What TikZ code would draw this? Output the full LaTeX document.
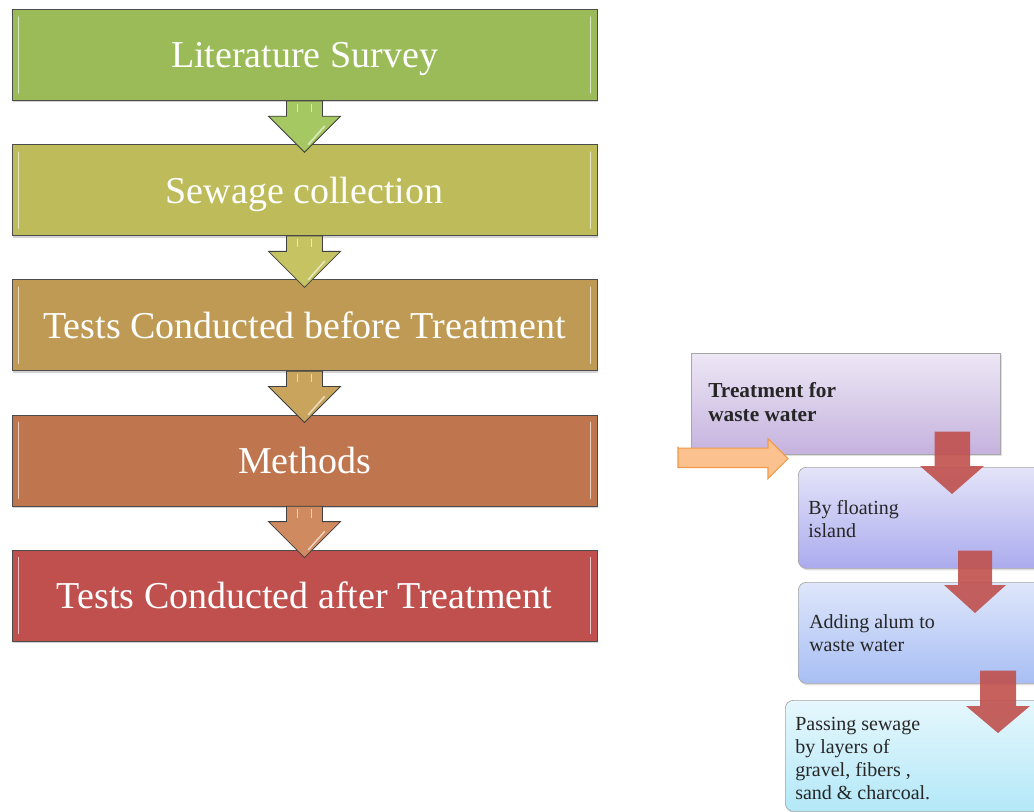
\documentclass[tikz,border=0pt]{standalone}
\usepackage{fontspec}
\setmainfont{Liberation Serif}
\usepackage{tikz}
\usetikzlibrary{positioning, calc, shadows}

\definecolor{stagegreen}{HTML}{9BBB59}
\definecolor{stageolive}{HTML}{BDBB5A}
\definecolor{stagetan}{HTML}{BF9A54}
\definecolor{stageorange}{HTML}{BF764E}
\definecolor{stagered}{HTML}{C0504D}
\definecolor{arrgreen}{HTML}{A6C862}
\definecolor{arrolive}{HTML}{C6C462}
\definecolor{arrtan}{HTML}{C8A45C}
\definecolor{arrorange}{HTML}{D08A60}
\definecolor{lilactop}{HTML}{EDE7F5}
\definecolor{lilacbot}{HTML}{C5B2DE}
\definecolor{periwtop}{HTML}{E4E4F9}
\definecolor{periwbot}{HTML}{ABABEE}
\definecolor{bluetop}{HTML}{DEE6FA}
\definecolor{bluebot}{HTML}{A8BEF4}
\definecolor{cyantop}{HTML}{E6F7FD}
\definecolor{cyanbot}{HTML}{B3E8F8}
\definecolor{peach}{HTML}{FBC28F}
\definecolor{peachline}{HTML}{F29A4A}

% block arrow pointing down: top, tip, half shaft, half head, head length, style
\newcommand{\blockdown}[6]{%
  \draw[#6] (#2) -- ++(#4,#5) -- ++(#3-#4,0) |- ($(#1)+(#3,0)$)
    -- ++(-2*#3,0) |- ($(#2)+(-#4,#5)$) -- cycle;
}

\begin{document}
\begin{tikzpicture}[x=0.75pt, y=0.75pt,
    node distance=32.5pt,
    stage/.style={draw=black!70, line width=0.6pt,
      minimum width=438.75pt, minimum height=68.25pt, text depth=0pt,
      text=white, font=\fontsize{28.5}{34}\selectfont,
      drop shadow={opacity=0.35, shadow xshift=1pt, shadow yshift=-1.5pt}},
    wbox/.style={draw=black!35, line width=0.5pt, anchor=north west,
      minimum width=231.75pt, minimum height=75.75pt,
      drop shadow={opacity=0.25, shadow xshift=1pt, shadow yshift=-1.5pt}},
    wtext/.style={anchor=north west, inner sep=0pt, align=left,
      text=black!85, font=\fontsize{15}{17.25}\selectfont},
    redarrow/.style={fill=stagered, fill opacity=0.9, draw=none},
  ]
  \useasboundingbox (0,0) rectangle (1034,-812);
  \clip (0,0) rectangle (1034,-812);

  % left column
  \node[stage, fill=stagegreen] (lit) at (304.5,-55) {Literature Survey};
  \node[stage, fill=stageolive, below=of lit] (sew) {Sewage collection};
  \node[stage, fill=stagetan, below=of sew] (tbt) {Tests Conducted before Treatment};
  \node[stage, fill=stageorange, below=of tbt] (met) {Methods};
  \node[stage, fill=stagered, below=of met] (tat) {Tests Conducted after Treatment};

  \foreach \n/\c in {lit/stagegreen, sew/stageolive, tbt/stagetan, met/stageorange, tat/stagered}{
    \draw[\c!35!white, line width=1.2pt, line cap=round]
      ($(\n.north west)+(7,-8)$) -- ($(\n.south west)+(7,8)$);
    \draw[\c!35!white, line width=1.2pt, line cap=round]
      ($(\n.north east)+(-7,-8)$) -- ($(\n.south east)+(-7,8)$);
  }

  \foreach \a/\b/\c [count=\i] in {lit/sew/arrgreen, sew/tbt/arrolive, tbt/met/arrtan, met/tat/arrorange}{
    \coordinate (tip\i) at ($(\b.north)+(0,-8)$);
    \blockdown{\a.south}{tip\i}{18}{36}{36}{draw=black!75, line width=0.6pt, fill=\c}
    \draw[\c!40!white, line width=1pt] ($(\a.south)+(-7,-3)$) -- ($(tip\i)+(-7,40)$);
    \draw[\c!40!white, line width=1pt] ($(\a.south)+(7,-3)$) -- ($(tip\i)+(7,40)$);
    \draw[\c!40!white, line width=1.2pt, line cap=round] ($(tip\i)+(4,8)$) -- ($(tip\i)+(20,26)$);
  }

  % right column
  \node[wbox, top color=lilactop, bottom color=lilacbot] (trt) at (691,-353) {};
  \node[wbox, rounded corners=6pt, top color=periwtop, bottom color=periwbot] (flo) at (798,-467) {};
  \node[wbox, rounded corners=6pt, top color=bluetop, bottom color=bluebot] (alm) at (798,-582) {};
  \node[wbox, rounded corners=6pt, top color=cyantop, bottom color=cyanbot,
    minimum width=240pt, minimum height=83.25pt] (pas) at (785,-700) {};

  \node[wtext, font=\bfseries\fontsize{16}{18}\selectfont] (ttrt)
    at ($(trt.north west)+(17,-29)$) {Treatment for\\waste water};
  \node[wtext] (tflo) at ($(flo.north west)+(10,-33)$) {By floating\\island};
  \node[wtext] (talm) at ($(alm.north west)+(11,-32)$) {Adding alum to\\waste water};
  \node[wtext] (tpas) at ($(pas.north west)+(10,-17)$)
    {Passing sewage\\by layers of\\gravel, fibers ,\\sand \& charcoal.};

  % incoming arrow
  \coordinate (inend) at (678,-457);
  \coordinate (intip) at ($(trt.south west)+(97,-4)$);
  \draw[draw=peachline, fill=peach, line width=0.8pt]
    (intip) -- ++(-20,20) -- ++(0,-9.5) -| ($(inend)+(0,10.5)$)
    -- ++(0,-21) -| ($(intip)+(-20,-20)$) -- cycle;

  % red arrows
  \coordinate (r1top) at ($(trt.south east)+(-48,23)$);
  \coordinate (r1tip) at ($(flo.north west)+(154,-27)$);
  \coordinate (r2top) at ($(flo.south west)+(177,18)$);
  \coordinate (r2tip) at ($(alm.north west)+(177,-31)$);
  \coordinate (r3top) at ($(alm.south west)+(200,13)$);
  \coordinate (r3tip) at ($(pas.north west)+(213,-33)$);
  \blockdown{r1top}{r1tip}{18}{32}{28}{redarrow}
  \blockdown{r2top}{r2tip}{17}{31}{28}{redarrow}
  \blockdown{r3top}{r3tip}{18}{32}{27}{redarrow}
\end{tikzpicture}
\end{document}
